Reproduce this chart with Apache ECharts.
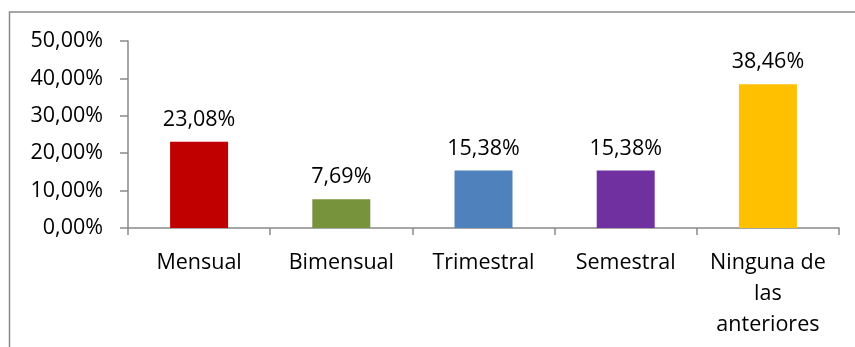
<!DOCTYPE html>
<html>
<head>
<meta charset="utf-8">
<script src="https://cdn.jsdelivr.net/npm/echarts@6/dist/echarts.min.js"></script>
<style>
html,body{margin:0;padding:0;background:#fff;}
#chart{width:855px;height:347px;}
</style>
</head>
<body>
<div id="chart"></div>
<script>
const categories = ['Mensual', 'Bimensual', 'Trimestral', 'Semestral', 'Ninguna de\nlas\nanteriores'];
const values = [23.08, 7.69, 15.38, 15.38, 38.46];
const barColors = ['#C00000', '#77933C', '#4F81BD', '#7030A0', '#FFC000'];
const yTicks = [0, 10, 20, 30, 40, 50];

const fmt = v => v.toFixed(2).replace('.', ',') + '%';
const FONT = '"Open Sans", sans-serif';

const chart = echarts.init(document.getElementById('chart'), null, {renderer: 'canvas'});
chart.setOption({
  animation: false,
  backgroundColor: '#ffffff',
  textStyle: {fontFamily: FONT},
  graphic: [{
    type: 'rect',
    shape: {x: 9.5, y: 12, width: 1000, height: 500},
    style: {fill: 'none', stroke: '#898989', lineWidth: 1.5},
    silent: true, z: -1
  }],
  grid: {left: 128, right: 16, top: 41, bottom: 119, containLabel: false},
  xAxis: {
    type: 'category',
    data: categories,
    axisLine: {show: true, lineStyle: {color: '#898989', width: 1.5}},
    axisTick: {show: true, alignWithLabel: false, length: 7, lineStyle: {color: '#898989', width: 1.5}},
    axisLabel: {color: '#000', fontFamily: FONT, fontSize: 21.5, lineHeight: 31, margin: 19, interval: 0}
  },
  yAxis: {
    type: 'value',
    min: yTicks[0],
    max: yTicks[yTicks.length - 1],
    interval: 10,
    axisLine: {show: true, lineStyle: {color: '#898989', width: 1.5}},
    axisTick: {show: true, length: 8, lineStyle: {color: '#898989', width: 1.5}},
    splitLine: {show: false},
    axisLabel: {color: '#000', fontFamily: FONT, fontSize: 21.5, margin: 25, formatter: v => fmt(v)}
  },
  series: [{
    type: 'bar',
    data: values.map((v, i) => ({value: v, itemStyle: {color: barColors[i]}})),
    barWidth: 58,
    label: {show: true, position: 'top', distance: 11, color: '#000', fontFamily: FONT, fontSize: 21.5, formatter: p => fmt(p.value)}
  }]
});
</script>
</body>
</html>
